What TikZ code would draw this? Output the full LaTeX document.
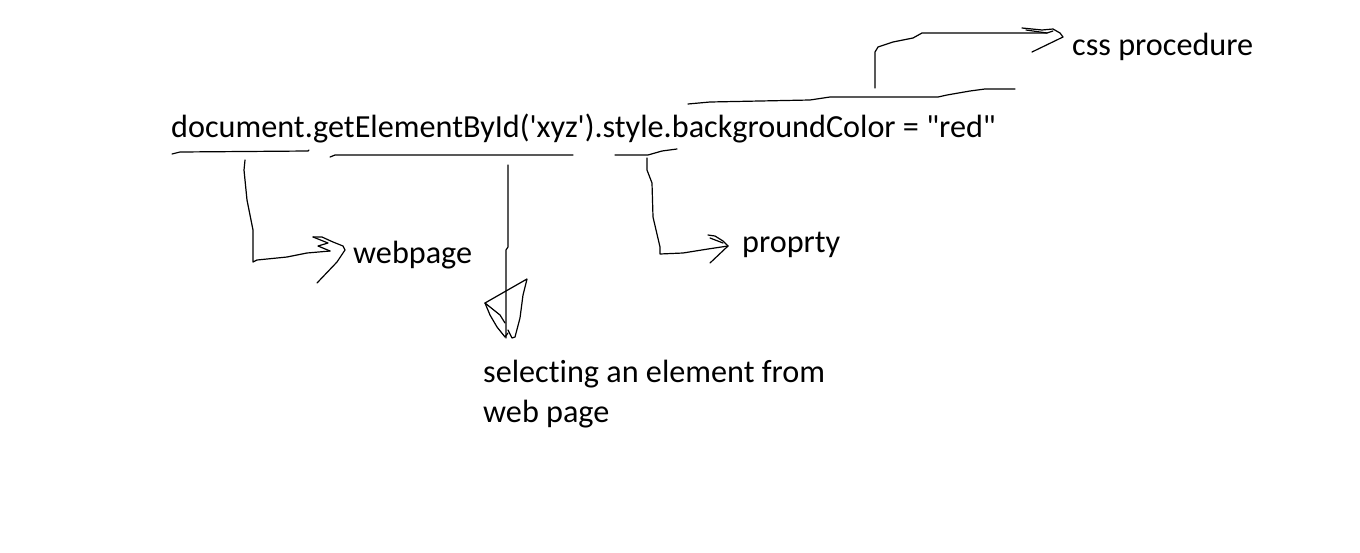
\documentclass[tikz,border=0pt]{standalone}
\usepackage{fontspec}
% straight quotes and no "ti" ligature: switch off TeX mapping and common ligatures
\setmainfont{Carlito}[Ligatures={TeXOff,NoCommon}]
\begin{document}
\begin{tikzpicture}[x=1pt,y=-1pt,
  lbl/.style={inner sep=0pt,anchor=base west,font=\fontsize{32.2}{40}\selectfont},
  ink/.style={line width=1.2pt,line join=round,line cap=round}]
\useasboundingbox[fill=white] (0,0) rectangle (1360,552);

% the statement and its labels
\node[lbl] (code) at (171,137)
  {document.getElementById('xyz').style.backgroundColor = "red"};
\node[lbl] (css) at (1072,55) {css procedure};
\node[lbl] (web) at (353,263) {webpage};
\node[lbl] (prop) at (742,252) {proprty};
% base of a two-line node is the baseline of its last line
\node[lbl,align=left] (sel) at (483,422) {selecting an element from\\web page};

% underline "document" and its pointer to "webpage"
\coordinate (docA) at (245,160);
\coordinate (docB) at (330,251);
\draw[ink] (172,154) -- (180,152) -- (308,151) -- (309,150);
\draw[ink] (docA) -- (244,170) -- (247,200) -- (253,230) -- (253,262)
  -- (257,260) -- (287,257) -- (307,253) -- (docB);
\draw[ink] (313,237) -- (322,237) -- (333,242) -- (343,246) -- (345,250)
  -- (337,262) -- (317,283);
\draw[ink] (313,237) -- (328,243) -- (318,246) -- (docB);

% underline "getElementById('xyz')" and its pointer down
\coordinate (getA) at (508,165);
\coordinate (getB) at (506,338);
\draw[ink] (330,157) -- (335,155) -- (573,155);
\draw[ink] (getA) -- (508,247) -- (506,250) -- (getB);
\draw[ink] (485,303) -- (527,279) -- (523,295) -- (520,318) -- (515,337)
  -- (512,338) -- (508,330);
\draw[ink] (485,303) -- (490,315) -- (497,327) -- (505,337) -- (508,333);
\draw[ink] (485,303) -- (500,315) -- (505,323);

% underline ".style" and its pointer to "proprty"
\coordinate (styA) at (647,158);
\coordinate (styB) at (728,246);
\draw[ink] (615,155) -- (648,155) -- (662,151) -- (677,149);
\draw[ink] (styA) -- (647,170) -- (652,183) -- (653,217) -- (660,247)
  -- (660,254) -- (683,253) -- (708,249) -- (styB);
\draw[ink] (708,235) -- (715,236) -- (723,241) -- (styB) -- (710,263);
\draw[ink] (710,238) -- (723,243);

% overline "backgroundColor = "red"" and its pointer to "css procedure"
\coordinate (bgA) at (875,88);
\coordinate (bgB) at (1047,33);
\draw[ink] (688,104) -- (710,102) -- (810,100) -- (830,97) -- (938,97)
  -- (947,95) -- (970,91) -- (985,89) -- (1015,89);
\draw[ink] (bgA) -- (875,52) -- (878,47) -- (893,42) -- (913,38)
  -- (922,33) -- (bgB);
\draw[ink] (1022,28) -- (1042,30) -- (1053,29) -- (1060,33) -- (1063,37)
  -- (1032,52);
\draw[ink] (1026,30) -- (1047,33) -- (1053,31);
\end{tikzpicture}
\end{document}
